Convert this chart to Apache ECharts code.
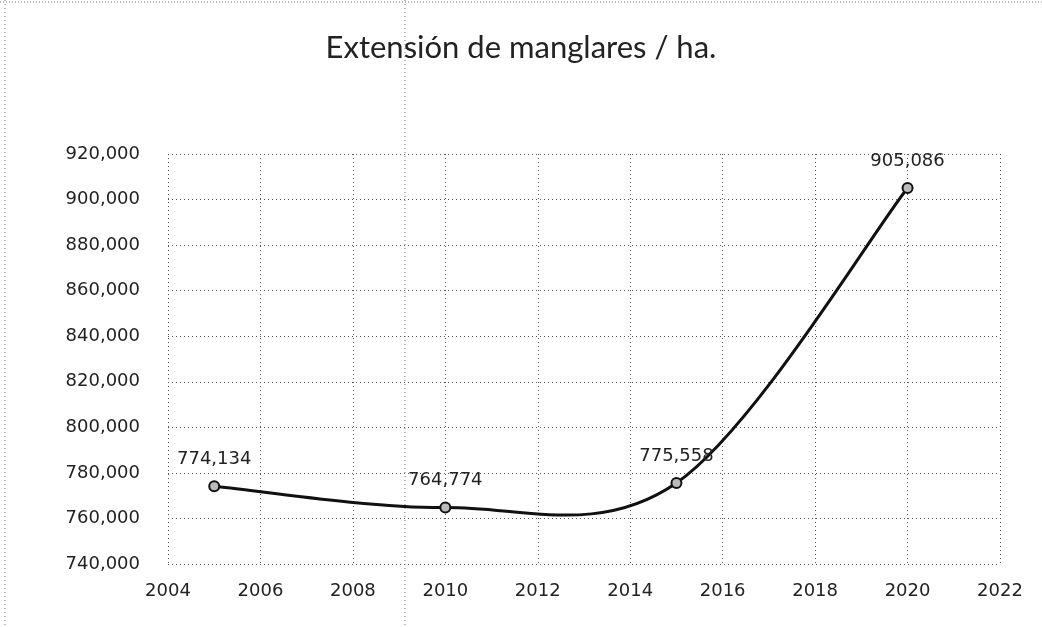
<!DOCTYPE html>
<html>
<head>
<meta charset="utf-8">
<script src="https://cdn.jsdelivr.net/npm/echarts@6/dist/echarts.min.js"></script>
<style>
  html, body { margin: 0; padding: 0; background: #fff; }
  #chart { width: 1042px; height: 627px; }
</style>
</head>
<body>
<div id="chart"></div>
<script>
const years = [2005, 2010, 2015, 2020];
const hectares = [774134, 764774, 775558, 905086];

const chart = echarts.init(document.getElementById('chart'));
const fmt = (v) => v.toLocaleString('en-US');
const dotted = { color: '#555', type: [1, 3], width: 1 };
const labelFont = { fontFamily: 'DejaVu Sans', fontSize: 18, color: '#222' };

// spreadsheet-style smoothed line: cubic bezier through the points,
// control points at 1/6 of the neighbour difference (pixel space from api.coord)
function renderCurve(params, api) {
  if (params.dataIndex !== 0) return;
  const pts = years.map((y, i) => api.coord([y, hectares[i]]));
  const n = pts.length;
  let d = 'M' + pts[0][0] + ' ' + pts[0][1];
  for (let i = 0; i < n - 1; i++) {
    const p0 = pts[Math.max(i - 1, 0)];
    const p1 = pts[i];
    const p2 = pts[i + 1];
    const p3 = pts[Math.min(i + 2, n - 1)];
    const c1 = [p1[0] + (p2[0] - p0[0]) / 6, p1[1] + (p2[1] - p0[1]) / 6];
    const c2 = [p2[0] - (p3[0] - p1[0]) / 6, p2[1] - (p3[1] - p1[1]) / 6];
    d += ' C' + c1.join(' ') + ' ' + c2.join(' ') + ' ' + p2.join(' ');
  }
  return {
    type: 'path',
    shape: { pathData: d },
    style: { fill: null, stroke: '#111', lineWidth: 3 },
  };
}

const option = {
  backgroundColor: '#fff',
  title: {
    text: 'Extensión de manglares / ha.',
    left: 'center',
    top: 27,
    textStyle: { fontFamily: 'Lato', fontSize: 31, fontWeight: 'normal', color: '#222' },
  },
  grid: { left: 168, right: 42, top: 154, bottom: 63 },
  xAxis: {
    type: 'value',
    min: 2004,
    max: 2022,
    interval: 2,
    axisLine: { show: false },
    axisTick: { show: false },
    splitLine: { show: true, lineStyle: dotted },
    axisLabel: { ...labelFont, margin: 18, formatter: (v) => String(v) },
  },
  yAxis: {
    type: 'value',
    min: 740000,
    max: 920000,
    interval: 20000,
    axisLine: { show: false },
    axisTick: { show: false },
    splitLine: { show: true, lineStyle: dotted },
    axisLabel: { ...labelFont, margin: 28, formatter: fmt },
  },
  // scan artefacts: fold line and page edges
  graphic: [
    { type: 'line', shape: { x1: 405, y1: 0, x2: 405, y2: 627 }, style: { stroke: '#777', lineDash: [1, 3] } },
    { type: 'line', shape: { x1: 0, y1: 2, x2: 1042, y2: 2 }, style: { stroke: '#777', lineDash: [1, 2] } },
    { type: 'line', shape: { x1: 5, y1: 0, x2: 5, y2: 627 }, style: { stroke: '#777', lineDash: [1, 3] } },
  ],
  series: [
    {
      type: 'custom',
      data: years.map((y, i) => [y, hectares[i]]),
      renderItem: renderCurve,
      silent: true,
      z: 2,
    },
    {
      type: 'line',
      data: years.map((y, i) => [y, hectares[i]]),
      symbol: 'circle',
      symbolSize: 10,
      lineStyle: { width: 0 },
      itemStyle: { color: '#bbb', borderColor: '#111', borderWidth: 2 },
      z: 3,
      label: {
        show: true,
        position: 'top',
        distance: 12,
        ...labelFont,
        formatter: (p) => fmt(p.value[1]),
      },
    },
  ],
};

chart.setOption(option);
</script>
</body>
</html>
